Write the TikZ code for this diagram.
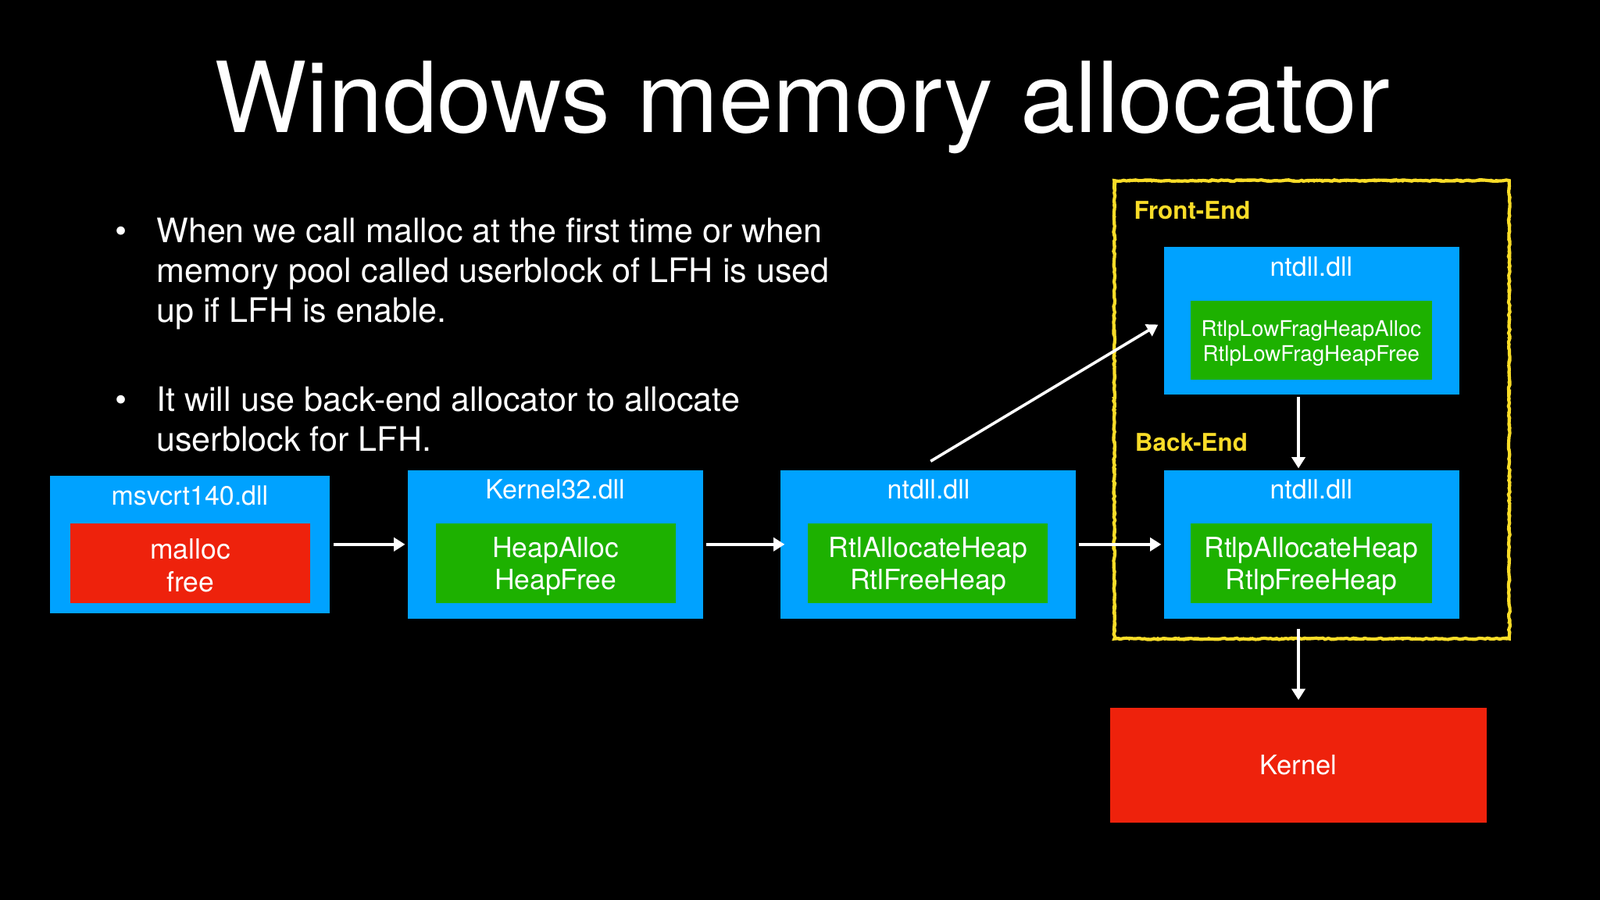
\documentclass[tikz,border=0pt]{standalone}
\usepackage{fontspec}
\setmainfont{TeX Gyre Heros}
\usetikzlibrary{fit,arrows.meta,decorations.pathmorphing}
\definecolor{kblue}{RGB}{0,162,255}
\definecolor{kgreen}{RGB}{29,177,0}
\definecolor{kred}{RGB}{238,34,12}
\definecolor{kyellow}{RGB}{248,220,40}
\begin{document}
\begin{tikzpicture}[x=0.5pt,y=-0.5pt,
  box/.style={inner sep=0pt, outer sep=0pt},
  bluebox/.style={box, fill=kblue},
  greenbox/.style={box, fill=kgreen},
  redbox/.style={box, fill=kred},
  boxtext/.style={inner sep=0pt, text=white, align=center, font=\fontsize{13.6}{16}\selectfont},
  smalltext/.style={boxtext, font=\fontsize{10.6}{12.5}\selectfont},
  dlllabel/.style={anchor=base, text=white, font=\fontsize{13}{15}\selectfont, inner sep=0pt},
  bodytext/.style={anchor=base west, text=white, font=\fontsize{16.5}{19.5}\selectfont, inner sep=0pt},
  bulletmark/.style={anchor=base, text=white, font=\fontsize{16.5}{19.5}\selectfont, inner sep=0pt},
  endlabel/.style={anchor=base west, text=kyellow, font=\bfseries\fontsize{12}{14}\selectfont, inner sep=0pt},
  arr/.style={draw=white, line width=1.4pt, -{Triangle[length=5.5pt,width=6.5pt]}},
  roughframe/.style={draw=kyellow, line width=1.6pt, decorate,
    decoration={random steps, segment length=1.5pt, amplitude=0.35pt}}]

% background and bounds
\fill[black] (0,0) rectangle (1568,882);
\useasboundingbox (0,0) rectangle (1568,882);

% title
\node[anchor=base, text=white, font=\fontsize{48}{58}\selectfont, inner sep=0pt] (title) at (786,130) {Windows memory allocator};

% bullets
\node[bulletmark] (bm1) at (119,238) {\textbullet};
\node[bodytext] (b1l1) at (153,238) {When we call malloc at the first time or when};
\node[bodytext] (b1l2) at (153,277) {memory pool called userblock of LFH is used};
\node[bodytext] (b1l3) at (153,316) {up if LFH is enable.};
\node[bulletmark] (bm2) at (119,403) {\textbullet};
\node[bodytext] (b2l1) at (153,403) {It will use back-end allocator to allocate};
\node[bodytext] (b2l2) at (153,442) {userblock for LFH.};

% yellow front/back-end frame
\node[inner sep=0pt, outer sep=0pt, fit={(1092,177) (1479,626)}] (frame) {};
\draw[roughframe] (frame.north west) rectangle (frame.south east);
\draw[roughframe, line width=0.8pt, decoration={random steps, segment length=1.2pt, amplitude=0.6pt}] (frame.north west) rectangle (frame.south east);
\node[endlabel] (felabel) at (1111,215) {Front-End};
\node[endlabel] (belabel) at (1112,442) {Back-End};

% msvcrt140.dll
\node[bluebox, fit={(49,466) (323,601)}] (msv) {};
\node[dlllabel] (msvl) at (186,495) {msvcrt140.dll};
\node[redbox, fit={(69,513) (304,591)}] (msvf) {};
\node[boxtext] (msvt) at ([yshift=-1pt]msvf.center) {malloc\\free};

% Kernel32.dll
\node[bluebox, fit={(400,461) (689,606)}] (k32) {};
\node[dlllabel] (k32l) at (544,489) {Kernel32.dll};
\node[greenbox, fit={(427,513) (662,591)}] (k32f) {};
\node[boxtext] (k32t) at ([yshift=-1.5pt]k32f.center) {HeapAlloc\\HeapFree};

% ntdll.dll (middle)
\node[bluebox, fit={(765,461) (1054,606)}] (nt) {};
\node[dlllabel] (ntl) at (910,489) {ntdll.dll};
\node[greenbox, fit={(792,513) (1027,591)}] (ntf) {};
\node[boxtext] (ntt) at ([yshift=-1.5pt]ntf.center) {RtlAllocateHeap\\RtlFreeHeap};

% ntdll.dll (back-end)
\node[bluebox, fit={(1141,461) (1430,606)}] (back) {};
\node[dlllabel] (backl) at (1285,489) {ntdll.dll};
\node[greenbox, fit={(1167,513) (1403,591)}] (backf) {};
\node[boxtext] (backt) at ([yshift=-1.5pt]backf.center) {RtlpAllocateHeap\\RtlpFreeHeap};

% ntdll.dll (front-end)
\node[bluebox, fit={(1141,242) (1430,387)}] (front) {};
\node[dlllabel] (frontl) at (1285,271) {ntdll.dll};
\node[greenbox, fit={(1167,295) (1403,372)}] (frontf) {};
\node[smalltext] (frontt) at ([yshift=-1.5pt]frontf.center) {RtlpLowFragHeapAlloc\\RtlpLowFragHeapFree};

% Kernel
\node[redbox, fit={(1088,694) (1457,806)}] (kern) {};
\node[boxtext, font=\fontsize{13.2}{16}\selectfont] (kernt) at (kern.center) {Kernel};

% connectors
\draw[arr, shorten <=2pt, shorten >=1.5pt] (msv.east) -- (k32.west);
\draw[arr, shorten <=1.5pt, shorten >=-2pt] (k32.east) -- (nt.west);
\draw[arr, shorten <=1.5pt, shorten >=1.5pt] (nt.east) -- (back.west);
\coordinate (ds) at (912,452);
\draw[arr, shorten >=3.5pt] (ds) -- (front.west);
\draw[arr, shorten <=1pt, shorten >=1pt] (front.south -| kern.north) -- (back.north -| kern.north);
\draw[arr, shorten <=5pt, shorten >=4pt] (back.south -| kern.north) -- (kern.north);
\end{tikzpicture}
\end{document}
